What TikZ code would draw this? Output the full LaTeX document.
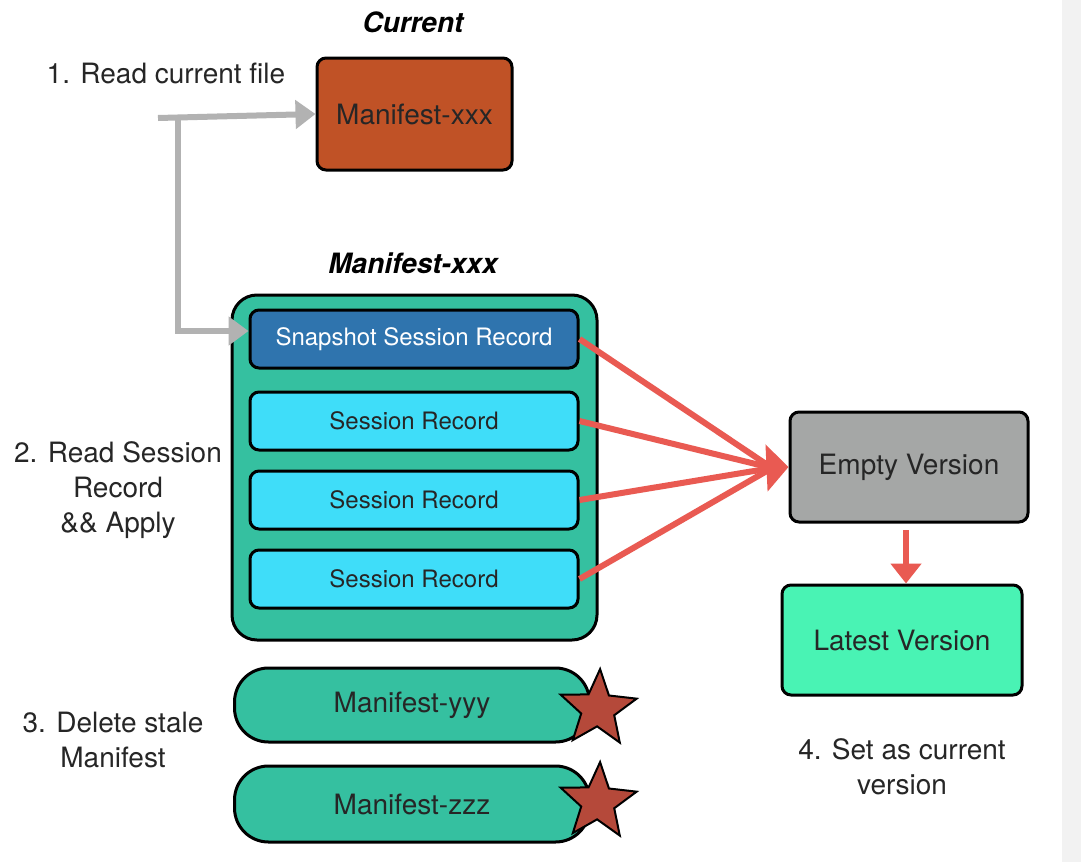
\documentclass[tikz,border=0pt]{standalone}
\usepackage{fontspec}
\setmainfont{TeX Gyre Heros}
\usetikzlibrary{shapes.geometric,arrows.meta}
\definecolor{orangebox}{RGB}{192,82,38}
\definecolor{tealbox}{RGB}{53,192,160}
\definecolor{darkblue}{RGB}{47,116,174}
\definecolor{cyanbox}{RGB}{63,221,249}
\definecolor{graybox}{RGB}{165,167,166}
\definecolor{mintbox}{RGB}{73,243,180}
\definecolor{redline}{RGB}{233,90,82}
\definecolor{grayline}{RGB}{178,178,178}
\definecolor{starred}{RGB}{181,73,58}
\definecolor{edgegray}{RGB}{242,242,242}
\begin{document}
\begin{tikzpicture}[x=1pt,y=-1pt,
  box/.style={draw=black, line width=3pt, rounded corners=9pt, inner sep=0pt, font=\fontsize{28}{32}\selectfont, text=black!85},
  rec/.style={box, minimum width=328pt, minimum height=58pt, font=\fontsize{24}{28}\selectfont},
  pill/.style={box, rounded corners=34pt, fill=tealbox, minimum width=355pt},
  lbl/.style={font=\fontsize{28}{35}\selectfont, align=center, text=black!85},
  ttl/.style={font=\fontsize{28}{32}\selectfont\bfseries\itshape},
  garrow/.style={draw=grayline, line width=6pt, -{Triangle[length=20pt,width=28pt]}},
  rline/.style={draw=redline, line width=6pt},
  redstar/.style={star, star points=5, star point ratio=2.3, minimum size=80pt, fill=starred, draw=black, line width=2pt, inner sep=0pt}
]
\useasboundingbox (0,0) rectangle (1081,862);
\fill[white] (0,0) rectangle (1081,862);
\fill[edgegray] (1062,0) rectangle (1081,862);

% titles
\node[ttl] (tcur) at (413,22) {Current};
\node[ttl] (tman) at (413,263) {Manifest-xxx};

% labels
\node[lbl] (l1) at (166,73) {1. Read current file};
\node[lbl] (l2) at (118,490) {2. Read Session\\Record\\\&\& Apply};
\node[lbl] (l3) at (113,740) {3. Delete stale\\Manifest};
\node[lbl] (l4) at (902,767) {4. Set as current\\version};

% current manifest
\node[box, fill=orangebox, minimum width=195pt, minimum height=112pt] (cur) at (414.5,114) {Manifest-xxx};

% container
\node[box, fill=tealbox, rounded corners=25pt, minimum width=365pt, minimum height=345pt] (cont) at (414.5,467.5) {};
\node[rec, fill=darkblue, text=white] (snap) at (414,339) {Snapshot Session Record};
\node[rec, fill=cyanbox] (s1) at (414,421) {Session Record};
\node[rec, fill=cyanbox] (s2) at (414,500) {Session Record};
\node[rec, fill=cyanbox] (s3) at (414,579) {Session Record};

% versions
\node[box, fill=graybox, minimum width=238pt, minimum height=110pt] (empty) at (909,467) {Empty Version};
\node[box, fill=mintbox, minimum width=240pt, minimum height=110pt] (latest) at (902,640) {Latest Version};

% stale manifests
\node[pill, minimum height=74pt] (yyy) at (412,705) {Manifest-yyy};
\node[pill, minimum height=76pt] (zzz) at (412,804) {Manifest-zzz};
\node[redstar, rotate=-3] (st1) at (598,709) {};
\node[redstar, rotate=-3] (st2) at (598,802) {};

% gray arrows
\coordinate (gstart) at (158,118);
\coordinate (gturn) at (178,118);
\draw[garrow] (gstart) -- (cur.west);
\draw[garrow] (gturn) |- ([yshift=8pt]snap.west);

% red arrows
\coordinate (conv) at (772,468);
\draw[rline] (snap.east) -- (conv);
\draw[rline] (s1.east) -- (conv);
\draw[rline] (s2.east) -- (conv);
\draw[rline] (s3.east) -- (conv);
\draw[rline, -{Triangle[length=22pt,width=46pt]}] ([xshift=-6pt]conv) -- (empty.west);
\coordinate (dstart) at (906,530);
\draw[rline, -{Triangle[length=20pt,width=30pt]}] (dstart) -- (dstart |- latest.north);
\end{tikzpicture}
\end{document}
